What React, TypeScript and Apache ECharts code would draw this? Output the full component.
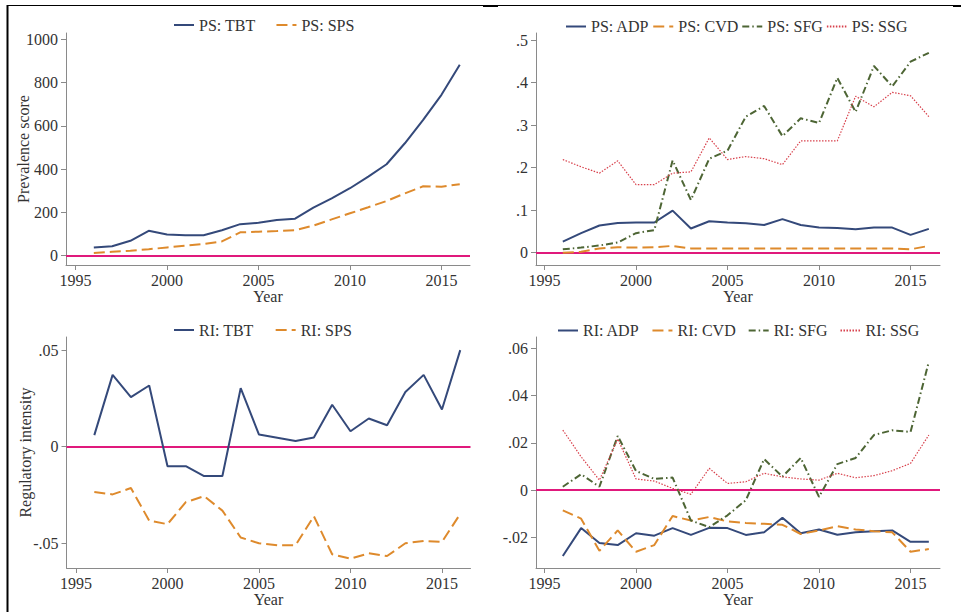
import React, { useEffect, useRef } from "react";
import * as echarts from "echarts";

const years = [1996, 1997, 1998, 1999, 2000, 2001, 2002, 2003, 2004, 2005, 2006, 2007, 2008, 2009, 2010, 2011, 2012, 2013, 2014, 2015, 2016];

// Prevalence score (top-left)
const psTBT = [37, 43, 68, 114, 97, 94, 94, 117, 145, 151, 164, 170, 221, 264, 311, 365, 422, 519, 627, 743, 882];
const psSPS = [12, 17, 22, 29, 37, 45, 53, 65, 107, 110, 113, 117, 138, 167, 195, 223, 252, 287, 320, 318, 330];

// Prevalence score (top-right)
const psADP = [0.026, 0.046, 0.064, 0.07, 0.071, 0.071, 0.099, 0.057, 0.074, 0.071, 0.069, 0.065, 0.079, 0.065, 0.059, 0.058, 0.055, 0.059, 0.059, 0.042, 0.056];
const psCVD = [0.0, 0.002, 0.01, 0.013, 0.012, 0.013, 0.016, 0.01, 0.01, 0.01, 0.01, 0.01, 0.01, 0.01, 0.01, 0.01, 0.01, 0.01, 0.01, 0.008, 0.016];
const psSFG = [0.008, 0.012, 0.017, 0.024, 0.046, 0.053, 0.217, 0.124, 0.221, 0.24, 0.32, 0.345, 0.274, 0.316, 0.305, 0.411, 0.331, 0.439, 0.391, 0.449, 0.47];
const psSSG = [0.219, 0.202, 0.187, 0.216, 0.16, 0.16, 0.187, 0.19, 0.27, 0.219, 0.226, 0.221, 0.207, 0.263, 0.263, 0.263, 0.368, 0.343, 0.377, 0.369, 0.32];

// Regulatory intensity (bottom-left)
const riTBT = [0.006, 0.0372, 0.0257, 0.0317, -0.0101, -0.0101, -0.0152, -0.0152, 0.0303, 0.0063, 0.0046, 0.0029, 0.0048, 0.0217, 0.008, 0.0146, 0.0111, 0.0283, 0.0372, 0.0193, 0.05];
const riSPS = [-0.0235, -0.0247, -0.0214, -0.0383, -0.0401, -0.0287, -0.0256, -0.0331, -0.047, -0.05, -0.051, -0.051, -0.036, -0.0557, -0.058, -0.0552, -0.0566, -0.05, -0.0488, -0.0493, -0.0348];

// Regulatory intensity (bottom-right)
const riADP = [-0.0279, -0.0161, -0.0224, -0.0233, -0.0183, -0.0193, -0.0161, -0.019, -0.016, -0.0161, -0.019, -0.0179, -0.0117, -0.0183, -0.0167, -0.0189, -0.0179, -0.0174, -0.0171, -0.0219, -0.0219];
const riCVD = [-0.0086, -0.0121, -0.0257, -0.0171, -0.0261, -0.0233, -0.011, -0.0129, -0.0114, -0.0133, -0.0139, -0.0143, -0.0147, -0.0186, -0.0171, -0.0153, -0.0167, -0.0174, -0.0179, -0.0261, -0.025];
const riSFG = [0.0014, 0.0067, 0.0014, 0.0229, 0.0081, 0.0047, 0.0053, -0.0129, -0.0157, -0.0107, -0.0043, 0.0131, 0.0057, 0.0136, -0.0029, 0.011, 0.0136, 0.0233, 0.0253, 0.0246, 0.0543];
const riSSG = [0.0254, 0.0141, 0.0042, 0.0216, 0.0047, 0.0038, 0.0007, -0.0018, 0.0092, 0.0028, 0.0035, 0.0071, 0.0056, 0.0047, 0.0042, 0.0071, 0.0052, 0.0061, 0.0082, 0.0113, 0.0233];

const xTicks = [1995, 2000, 2005, 2010, 2015];
const yTicksTL = [0, 200, 400, 600, 800, 1000];
const yTicksTR = [0, 0.1, 0.2, 0.3, 0.4, 0.5];
const yTicksBL = [-0.05, 0, 0.05];
const yTicksBR = [-0.02, 0, 0.02, 0.04, 0.06];

const FONT = "Liberation Serif";
const TXT = "#333333";
const AXIS = "#8a8a8a";
const NAVY = "#34497a";
const ORANGE = "#de8a2c";
const GREEN = "#4d6534";
const RED = "#d8414c";
const PINK = "#e0197c";

const fmt = (v: number) => {
  const s = String(Math.round(v * 10000) / 10000);
  return s.replace(/^(-?)0\./, "$1.");
};

function pairs(vals: number[]) {
  return years.map((y, i) => [y, vals[i]]);
}

function xAxis(gridIndex: number, left: boolean) {
  return {
    type: "value",
    gridIndex,
    min: left ? 1994.48 : 1994.535,
    max: left ? 2016.56 : 2016.61,
    name: "Year",
    nameLocation: "middle",
    nameGap: 22,
    nameTextStyle: { fontFamily: FONT, fontSize: 16, color: TXT },
    axisLine: { show: true, onZero: false, lineStyle: { color: AXIS, width: 1 } },
    axisTick: { show: true, length: 5, customValues: xTicks, lineStyle: { color: AXIS } },
    axisLabel: {
      customValues: xTicks,
      margin: 7,
      fontFamily: FONT,
      fontSize: 16,
      color: TXT,
      formatter: (v: number) => String(Math.round(v)),
    },
    splitLine: { show: false },
  };
}

function yAxis(gridIndex: number, min: number, max: number, ticks: number[], name: string, nameGap: number) {
  return {
    type: "value",
    gridIndex,
    min,
    max,
    name,
    nameLocation: "middle",
    nameGap,
    nameMoveOverlap: false,
    nameTextStyle: { fontFamily: FONT, fontSize: 16, color: TXT },
    axisLine: { show: true, onZero: false, lineStyle: { color: AXIS, width: 1 } },
    axisTick: { show: true, length: 5, customValues: ticks, lineStyle: { color: AXIS } },
    axisLabel: {
      customValues: ticks,
      margin: 8,
      fontFamily: FONT,
      fontSize: 16,
      color: TXT,
      formatter: fmt,
    },
    splitLine: { show: false },
  };
}

function line(name: string, idx: number, vals: number[], color: string, type: any, width: number, zero: boolean) {
  const s: any = {
    name,
    type: "line",
    xAxisIndex: idx,
    yAxisIndex: idx,
    data: pairs(vals),
    symbol: "none",
    showSymbol: false,
    lineStyle: { color, width, type },
    itemStyle: { color, opacity: 0 },
    emphasis: { disabled: true },
    silent: true,
  };
  if (zero) {
    s.markLine = {
      silent: true,
      symbol: ["none", "none"],
      label: { show: false },
      lineStyle: { color: PINK, width: 2, type: "solid", opacity: 1 },
      data: [{ yAxis: 0 }],
      z: 1,
    };
  }
  return s;
}

function legend(names: string[], left: number, top: number, gap: number, w: number) {
  return {
    data: names,
    left,
    top,
    padding: 0,
    orient: "horizontal",
    itemGap: gap,
    itemWidth: w,
    itemHeight: 14,
    selectedMode: false,
    itemStyle: { opacity: 0 },
    textStyle: { fontFamily: FONT, fontSize: 16, color: TXT },
  };
}

export default function App() {
  const ref = useRef<HTMLDivElement>(null);
  useEffect(() => {
    if (!ref.current) return;
    const chart = echarts.init(ref.current, null, { renderer: "svg" });
    const dash = [11, 5];
    const dashDot = [7, 3, 1.5, 3];
    const dot = [1.5, 1.5];
    chart.setOption({
      animation: false,
      backgroundColor: "#ffffff",
      grid: [
        { left: 66, top: 33, width: 404, height: 232 },
        { left: 536, top: 33, width: 404, height: 232 },
        { left: 66.5, top: 337, width: 404, height: 231 },
        { left: 536, top: 337, width: 404, height: 231 },
      ],
      xAxis: [xAxis(0, true), xAxis(1, false), xAxis(2, true), xAxis(3, false)],
      yAxis: [
        yAxis(0, -44, 1029, yTicksTL, "Prevalence score", 35),
        yAxis(1, -0.0289, 0.5165, yTicksTR, "", 30),
        yAxis(2, -0.0628, 0.0568, yTicksBL, "Regulatory intensity", 33.5),
        yAxis(3, -0.033, 0.0648, yTicksBR, "", 30),
      ],
      legend: [
        legend(["PS: TBT", "PS: SPS"], 173, 17, 20, 20),
        legend(["PS: ADP", "PS: CVD", "PS: SFG", "PS: SSG"], 565, 18.5, 3, 20),
        legend(["RI: TBT", "RI: SPS"], 173, 322, 21, 20),
        legend(["RI: ADP", "RI: CVD", "RI: SFG", "RI: SSG"], 557, 322.5, 12, 20),
      ],
      series: [
        line("PS: TBT", 0, psTBT, NAVY, "solid", 2, true),
        line("PS: SPS", 0, psSPS, ORANGE, dash, 2, false),
        line("PS: ADP", 1, psADP, NAVY, "solid", 2, true),
        line("PS: CVD", 1, psCVD, ORANGE, dash, 2, false),
        line("PS: SFG", 1, psSFG, GREEN, dashDot, 2, false),
        line("PS: SSG", 1, psSSG, RED, dot, 1.2, false),
        line("RI: TBT", 2, riTBT, NAVY, "solid", 2, true),
        line("RI: SPS", 2, riSPS, ORANGE, dash, 2, false),
        line("RI: ADP", 3, riADP, NAVY, "solid", 2, true),
        line("RI: CVD", 3, riCVD, ORANGE, dash, 2, false),
        line("RI: SFG", 3, riSFG, GREEN, dashDot, 2, false),
        line("RI: SSG", 3, riSSG, RED, dot, 1.2, false),
      ],
      graphic: [
        { type: "line", shape: { x1: 7.5, y1: 5, x2: 7.5, y2: 612 }, style: { stroke: "#000", lineWidth: 2 }, silent: true },
        { type: "line", shape: { x1: 7, y1: 5.5, x2: 961, y2: 5.5 }, style: { stroke: "#000", lineWidth: 1 }, silent: true },
        { type: "rect", shape: { x: 483, y: 5, width: 15, height: 2 }, style: { fill: "#000" }, silent: true },
        { type: "rect", shape: { x: 953, y: 5, width: 8, height: 2 }, style: { fill: "#000" }, silent: true },
      ],
    });
    return () => chart.dispose();
  }, []);
  return (
    <div
      ref={ref}
      style={{ position: "fixed", left: 0, top: 0, width: 961, height: 612, background: "#fff" }}
    />
  );
}
